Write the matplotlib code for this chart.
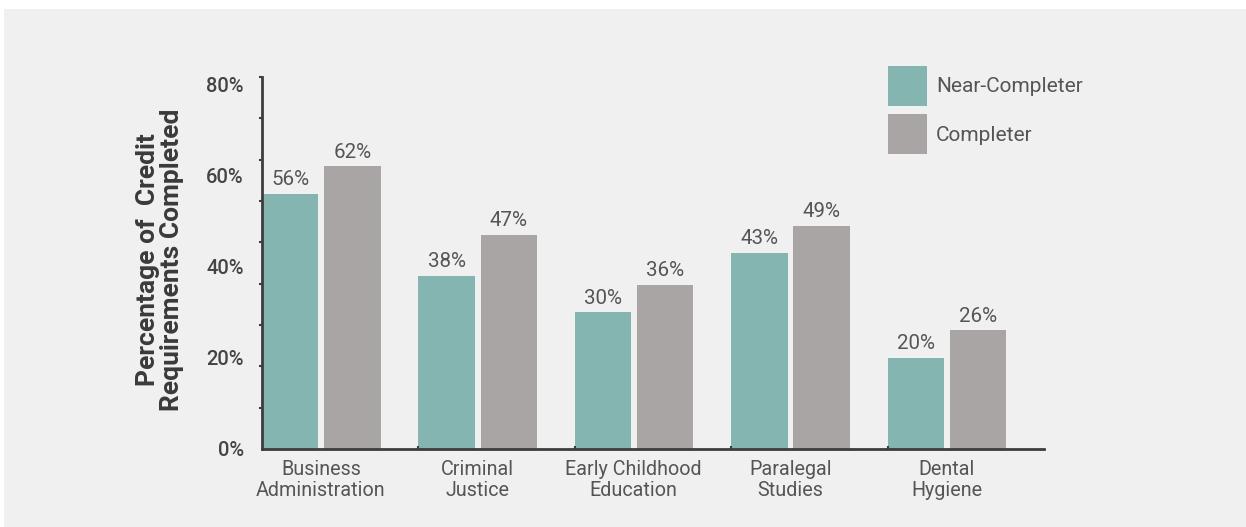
import numpy as np
import matplotlib
matplotlib.use("Agg")
import matplotlib.pyplot as plt
from matplotlib.patches import Rectangle, Patch

plt.rcParams['font.family'] = ['Roboto', 'DejaVu Sans']

programs = ["Business\nAdministration", "Criminal\nJustice", "Early Childhood\nEducation",
            "Paralegal\nStudies", "Dental\nHygiene"]
near_completer = [56, 38, 30, 43, 20]
completer = [62, 47, 36, 49, 26]
y_ticks = [0, 20, 40, 60, 80]

teal = "#84b5b0"
grey = "#a9a5a4"
bg = "#f0f0f0"
axis_col = "#3d3d3d"
text_col = "#555555"

fig = plt.figure(figsize=(12.46, 5.27), dpi=100, facecolor="white")
# grey panel behind the chart, leaving a thin white strip at the top
fig.patches.append(Rectangle((4 / 1246, 0), 1, 1 - 9 / 527, transform=fig.transFigure,
                             facecolor=bg, edgecolor="none", zorder=-10))

ax = fig.add_axes([262 / 1246, 1 - 449 / 527, (1044 - 262) / 1246, (449 - 77) / 527])
ax.set_facecolor(bg)

x = np.arange(len(programs))
w = 0.36
b1 = ax.bar(x + 0.18, near_completer, w, color=teal, label="Near-Completer")
b2 = ax.bar(x + 0.578, completer, w, color=grey, label="Completer")

for bars, vals in ((b1, near_completer), (b2, completer)):
    for r, v in zip(bars, vals):
        ax.text(r.get_x() + r.get_width() / 2, v + 1.0, f"{v}%", ha="center", va="bottom",
                fontsize=14.8, color=text_col)

ax.set_xlim(0, 5)
ax.set_ylim(0, 81.6)

for s in ("top", "right"):
    ax.spines[s].set_visible(False)
for s in ("left", "bottom"):
    ax.spines[s].set_color(axis_col)
    ax.spines[s].set_linewidth(2.0)

ax.set_yticks(y_ticks)
ax.set_yticklabels([f"{t}%" for t in y_ticks], fontsize=14.5, fontweight="medium", color="#444444")
ax.tick_params(axis="y", which="major", length=0, pad=13)
ax.set_yticks(np.linspace(0, 81.6, 10), minor=True)
ax.tick_params(axis="y", which="minor", length=2, width=1.5, color=axis_col, direction="out")

ax.set_xticks(x + 0.377)
ax.set_xticklabels(programs, fontsize=14.2, color=text_col, linespacing=1.1)
ax.tick_params(axis="x", which="major", length=0, pad=8)
ax.set_xticks(np.arange(1, 5), minor=True)
ax.tick_params(axis="x", which="minor", length=2, width=1.5, color=axis_col, direction="in")

fig.text(160 / 1246, 1 - 260 / 527, "Percentage of  Credit\nRequirements Completed",
         rotation=90, ha="center", va="center", multialignment="center",
         fontsize=19, fontweight="bold", color="#3a3a3a", linespacing=1.0)

handles = [Patch(facecolor=teal, label="Near-Completer"), Patch(facecolor=grey, label="Completer")]
fig.legend(handles=handles, loc="upper left", bbox_to_anchor=(888 / 1246, 1 - 66 / 527),
           frameon=False, fontsize=15, labelcolor=text_col, handlelength=1.85, handleheight=2.55,
           handletextpad=0.45, labelspacing=0.42, borderpad=0, borderaxespad=0)

fig.savefig("out.png", dpi=100, facecolor=fig.get_facecolor())
